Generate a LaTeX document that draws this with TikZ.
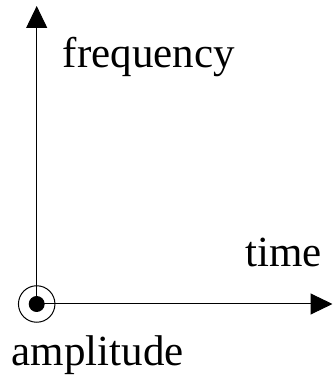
\documentclass[tikz,border=0pt]{standalone}
\usepackage{fontspec}
\setmainfont{Liberation Serif}
\usetikzlibrary{positioning, arrows.meta}

\begin{document}
\begin{tikzpicture}[
    x=1pt, y=1pt,
    axis/.style={line width=1pt, -{Triangle[length=22pt, width=21pt]}},
    axistext/.style={anchor=base west, inner sep=0pt, font=\fontsize{43}{50}\selectfont}
]

\useasboundingbox (0,0) rectangle (333,377);

\coordinate (o) at (36.7,73);
\node (ring) [circle, draw, line width=1pt, minimum size=36.5pt, inner sep=0pt] at (o) {};
\fill (o) circle (8pt);

\coordinate (ytip) at (36.7,371);
\coordinate (xtip) at (332.5,73);

\draw[axis] (o) -- (ytip);
\draw[axis] (o) -- (xtip);

\node (freq) [axistext] at (62.7,309.3) {frequency};
\node (time) [axistext] at (245,110.3) {time};
\node (ampl) [axistext] at (11.5,12) {amplitude};

\end{tikzpicture}
\end{document}
